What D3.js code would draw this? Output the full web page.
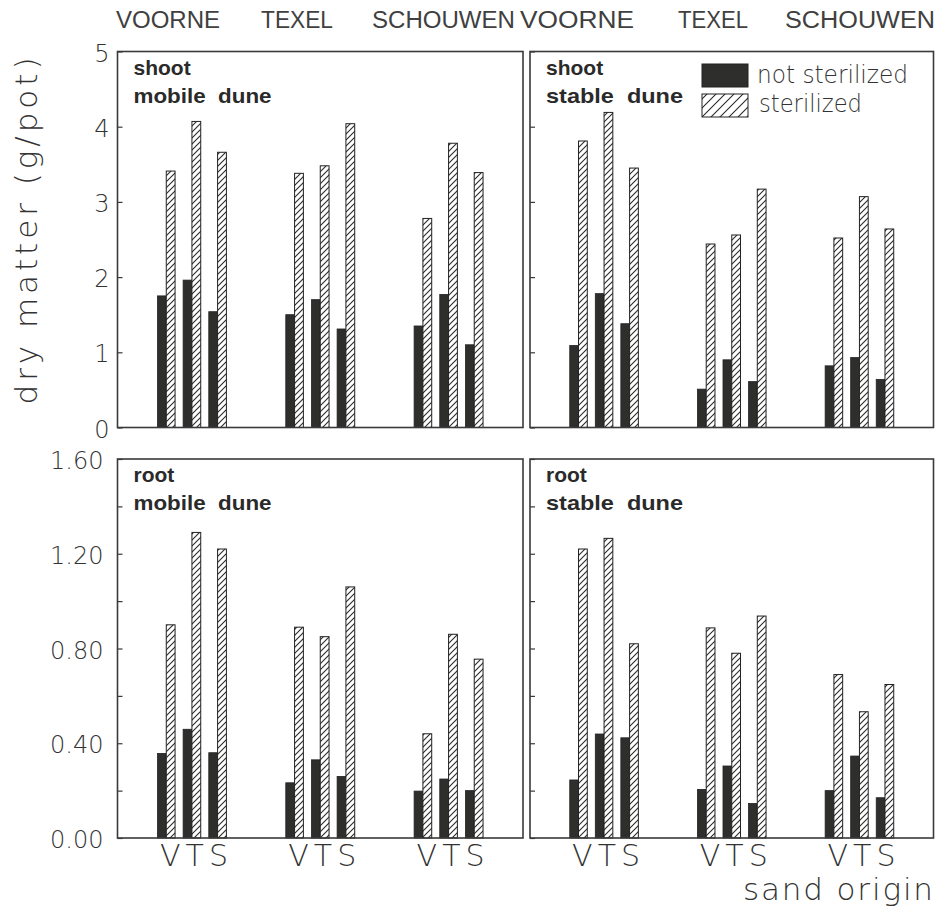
<!DOCTYPE html>
<html>
<head>
<meta charset="utf-8">
<script src="https://cdn.jsdelivr.net/npm/d3@7"></script>
<style>
  html, body { margin: 0; padding: 0; background: #ffffff; }
  svg { display: block; }
  .thin { font-family: "DejaVu Sans", "Liberation Sans", sans-serif; font-weight: 200; fill: #333333; }
  .cond { font-family: "Liberation Sans", "Arial", sans-serif; font-weight: normal; fill: #404040; }
  .bold { font-family: "Liberation Sans", "Arial", sans-serif; font-weight: bold; fill: #2a2a2a; white-space: pre; }
</style>
</head>
<body>
<svg id="chart" width="947" height="911"></svg>
<script>
// ---------------- data ----------------
const plantOrigins = ["VOORNE", "TEXEL", "SCHOUWEN"];
const sandOrigins = ["V", "T", "S"];
const seriesNames = ["not sterilized", "sterilized"];
const shootTicks = [0, 1, 2, 3, 4, 5];
const rootTickMarks = [0, 0.2, 0.4, 0.6, 0.8, 1.0, 1.2, 1.4, 1.6];
const rootTickLabels = [0, 0.4, 0.8, 1.2, 1.6];

// values ordered: VOORNE(V,T,S), TEXEL(V,T,S), SCHOUWEN(V,T,S)
const shootMobileNot  = [1.75, 1.96, 1.54, 1.50, 1.70, 1.31, 1.35, 1.77, 1.10];
const shootMobileSter = [3.41, 4.07, 3.66, 3.38, 3.48, 4.04, 2.78, 3.78, 3.39];
const shootStableNot  = [1.09, 1.78, 1.38, 0.51, 0.90, 0.61, 0.82, 0.93, 0.64];
const shootStableSter = [3.81, 4.19, 3.45, 2.44, 2.56, 3.17, 2.52, 3.07, 2.64];
const rootMobileNot   = [0.357, 0.459, 0.360, 0.233, 0.330, 0.260, 0.198, 0.249, 0.200];
const rootMobileSter  = [0.900, 1.290, 1.220, 0.890, 0.850, 1.060, 0.440, 0.860, 0.755];
const rootStableNot   = [0.245, 0.439, 0.423, 0.205, 0.304, 0.146, 0.200, 0.346, 0.170];
const rootStableSter  = [1.220, 1.265, 0.820, 0.887, 0.780, 0.937, 0.690, 0.533, 0.648];

// ---------------- drawing ----------------
const svg = d3.select("#chart");
const defs = svg.append("defs");

function hatch(id, step, sw) {
  const p = defs.append("pattern").attr("id", id).attr("patternUnits", "userSpaceOnUse")
    .attr("width", step).attr("height", step);
  p.append("rect").attr("width", step).attr("height", step).attr("fill", "#fff");
  p.append("path")
    .attr("d", `M0,${step} L${step},0 M${-step/2},${step/2} L${step/2},${-step/2} M${step/2},${step*1.5} L${step*1.5},${step/2}`)
    .attr("stroke", "#2a2a2a").attr("stroke-width", sw);
}
hatch("hatchBar", 6, 1.1);
hatch("hatchLeg", 9, 1.1);

const darkFill = "#2e2e2c";
const frameColor = "#3a3a3a";

const yShoot = d3.scaleLinear().domain([0, 5]).range([427.5, 51.5]);
const yRoot = d3.scaleLinear().domain([0, 1.6]).range([838, 459]);

const panels = [
  { x0: 117.5, x1: 523, y: yShoot, not: shootMobileNot, ster: shootMobileSter, l1: "shoot", l2: "mobile  dune", ticks: shootTicks, left: true, top: true },
  { x0: 530, x1: 933.5, y: yShoot, not: shootStableNot, ster: shootStableSter, l1: "shoot", l2: "stable  dune", ticks: shootTicks, left: false, top: true },
  { x0: 117.5, x1: 523, y: yRoot, not: rootMobileNot, ster: rootMobileSter, l1: "root", l2: "mobile  dune", ticks: rootTickMarks, left: true, top: false },
  { x0: 530, x1: 933.5, y: yRoot, not: rootStableNot, ster: rootStableSter, l1: "root", l2: "stable  dune", ticks: rootTickMarks, left: false, top: false }
];

const half = 0.343; // one bar width in slot units

panels.forEach(p => {
  const x = d3.scaleLinear().domain([-1.9, 13.9]).range([p.x0, p.x1]);
  const g = svg.append("g");
  const [yb, yt] = p.y.range();

  // bars
  const items = p.not.map((v, i) => ({ k: Math.floor(i / 3) * 5 + (i % 3), not: v, ster: p.ster[i] }));
  g.selectAll("rect.not").data(items).join("rect")
    .attr("x", d => x(d.k - half)).attr("width", d => x(d.k) - x(d.k - half))
    .attr("y", d => p.y(d.not)).attr("height", d => yb - p.y(d.not))
    .attr("fill", darkFill).attr("stroke", "#222").attr("stroke-width", 0.8);
  g.selectAll("rect.ster").data(items).join("rect")
    .attr("x", d => x(d.k)).attr("width", d => x(d.k + half) - x(d.k))
    .attr("y", d => p.y(d.ster)).attr("height", d => yb - p.y(d.ster))
    .attr("fill", "url(#hatchBar)").attr("stroke", "#222").attr("stroke-width", 1);

  // frame
  g.append("rect").attr("x", p.x0).attr("y", yt).attr("width", p.x1 - p.x0).attr("height", yb - yt)
    .attr("fill", "none").attr("stroke", frameColor).attr("stroke-width", 1.6);

  // inward tick marks
  const tickAxis = d3.axisLeft(p.y).tickValues(p.ticks).tickSize(-5).tickFormat("");
  const ta = g.append("g").attr("transform", `translate(${p.x0},0)`).call(tickAxis);
  ta.select(".domain").remove();
  ta.selectAll("line").attr("stroke", frameColor).attr("stroke-width", 1.2);

  // tick labels
  if (p.left) {
    const lab = p.top
      ? d3.axisLeft(p.y).tickValues(shootTicks).tickSize(0).tickPadding(8).tickFormat(d3.format("d"))
      : d3.axisLeft(p.y).tickValues(rootTickLabels).tickSize(0).tickPadding(14).tickFormat(d3.format(".2f"));
    const la = g.append("g").attr("transform", `translate(${p.x0},2)`).call(lab);
    la.select(".domain").remove();
    la.selectAll("text").attr("class", "thin").attr("font-size", 24).attr("fill", "#333")
      .attr("font-family", null);
  }

  // panel labels
  g.append("text").attr("class", "bold").attr("x", p.x0 + 16).attr("y", yt + 23)
    .attr("font-size", 21).text(p.l1);
  g.append("text").attr("class", "bold").attr("x", p.x0 + 16).attr("y", yt + 51)
    .attr("font-size", 21).attr("textLength", p.left ? 138 : 137).attr("lengthAdjust", "spacingAndGlyphs").text(p.l2);

  // VTS labels under bottom panels
  if (!p.top) {
    plantOrigins.forEach((po, gi) => {
      const cx = x(gi * 5 + 1) + 2;
      g.append("text").attr("class", "thin").attr("x", cx).attr("y", 866)
        .attr("text-anchor", "middle").attr("font-size", 30)
        .attr("textLength", 68).attr("lengthAdjust", "spacing")
        .text(sandOrigins.join(""));
    });
  }
});

// plant origin labels at top
const topLabelPos = [[116, 104], [261, 72], [372, 143], [520, 114], [678, 70], [785, 150]];
topLabelPos.forEach((pos, i) => {
  svg.append("text").attr("class", "cond").attr("x", pos[0]).attr("y", 28)
    .attr("font-size", 23.5).attr("textLength", pos[1]).attr("lengthAdjust", "spacingAndGlyphs")
    .text(plantOrigins[i % 3]);
});

// y axis title
svg.append("text").attr("class", "thin")
  .attr("transform", "translate(37,231) rotate(-90)")
  .attr("text-anchor", "middle").attr("font-size", 31)
  .attr("textLength", 347).attr("lengthAdjust", "spacing")
  .text("dry matter (g/pot)");

// x axis title
svg.append("text").attr("class", "thin")
  .attr("x", 933).attr("y", 900).attr("text-anchor", "end").attr("font-size", 31)
  .attr("textLength", 190).attr("lengthAdjust", "spacing")
  .text("sand origin");

// legend
const leg = svg.append("g");
const legY = [[64, 87], [94, 117]];
seriesNames.forEach((s, i) => {
  leg.append("rect").attr("x", 702).attr("y", legY[i][0]).attr("width", 46).attr("height", legY[i][1] - legY[i][0])
    .attr("fill", i === 0 ? darkFill : "url(#hatchLeg)").attr("stroke", "#222").attr("stroke-width", 1);
  leg.append("text").attr("class", "thin").attr("x", i === 0 ? 757 : 759).attr("y", i === 0 ? 83 : 112)
    .attr("font-size", 24).attr("textLength", i === 0 ? 151 : 103).attr("lengthAdjust", "spacingAndGlyphs")
    .text(s);
});
</script>
</body>
</html>
